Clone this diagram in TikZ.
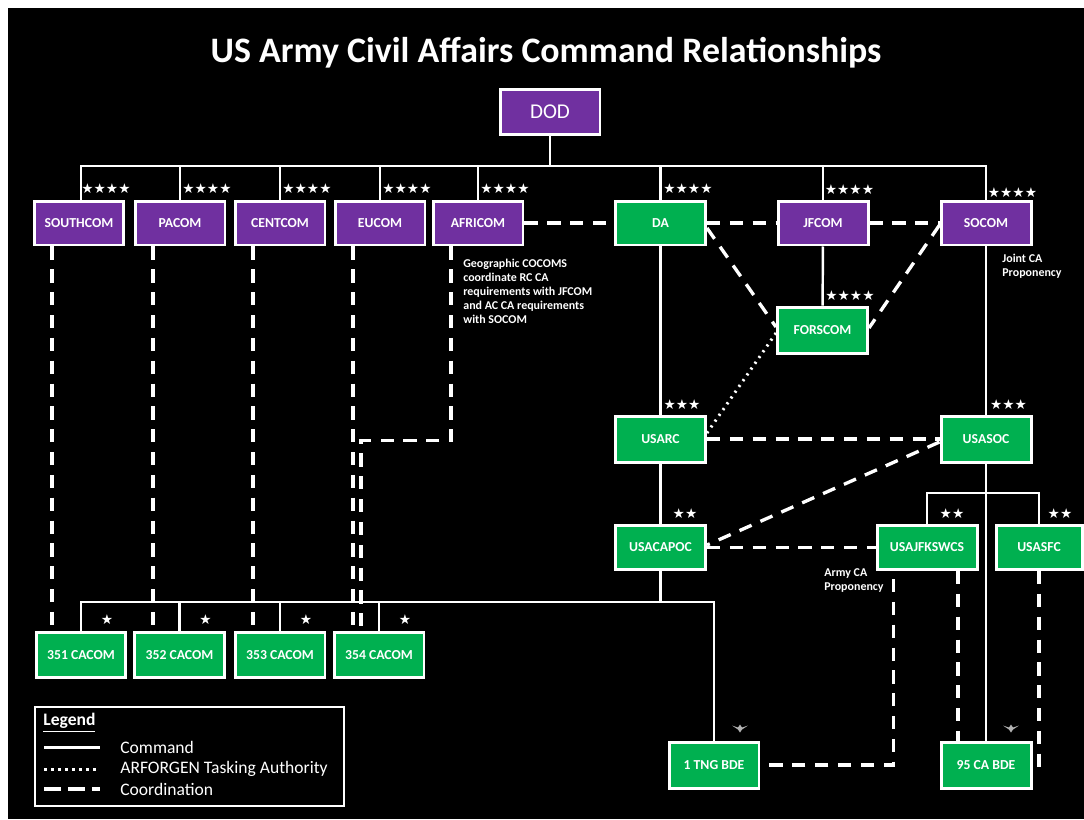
\documentclass[tikz,border=0pt]{standalone}
\usepackage{fontspec}
\setmainfont{Carlito}
\newfontfamily\starfont{DejaVu Sans}
\definecolor{cmdpurple}{RGB}{112, 48, 160}
\definecolor{cmdgreen}{RGB}{0, 176, 80}

\begin{document}
\begin{tikzpicture}[x=0.02cm, y=-0.02cm,
    pbox/.style={draw=white, line width=1.7pt, fill=cmdpurple, text=white,
                 font=\fontsize{7.8}{9}\selectfont\bfseries,
                 minimum width=1.8cm, minimum height=0.88cm, inner sep=0pt},
    gbox/.style={pbox, fill=cmdgreen},
    cmd/.style={draw=white, line width=1.4pt},
    coord/.style={draw=white, line width=1.9pt, dash pattern=on 7.5pt off 5.5pt},
    tasking/.style={draw=white, line width=1.7pt, dash pattern=on 1.2pt off 2.8pt},
    stars/.style={text=white, font=\starfont\fontsize{7.8}{8}\selectfont, inner sep=0pt},
    note/.style={text=white, font=\fontsize{6.8}{7.9}\selectfont\bfseries,
                 align=left, inner sep=0pt, anchor=north west},
    legtext/.style={text=white, font=\fontsize{10}{12}\selectfont, anchor=west, inner sep=0pt}]

    % Page and background
    \useasboundingbox (0,0) rectangle (1084,819);
    \fill[white] (0,0) rectangle (1084,819);
    \fill[black] (8,8) rectangle (1084,819);

    \node[text=white, font=\fontsize{20.4}{24}\selectfont\bfseries] (title) at (546,53)
        {US Army Civil Affairs Command Relationships};

    % Boxes
    \node[pbox, minimum width=2cm, minimum height=0.9cm, font=\fontsize{12}{14}\selectfont] (dod) at (550,112) {DOD};
    \foreach \n/\x in {SOUTHCOM/79, PACOM/180, CENTCOM/280, EUCOM/380, AFRICOM/478} {
        \node[pbox] (\n) at (\x,223) {\n};
        \node[stars] (s\n) at ([xshift=0.54cm, yshift=0.22cm]\n.north) {★★★★};
    }
    \node[gbox] (da) at (660.5,223) {DA};
    \node[pbox] (jfcom) at (823,223) {JFCOM};
    \node[pbox] (socom) at (986,223) {SOCOM};
    \node[gbox, minimum height=0.92cm] (forscom) at (822.5,330) {FORSCOM};
    \node[gbox, minimum height=0.92cm] (usarc) at (660.5,439) {USARC};
    \node[gbox, minimum height=0.92cm] (usasoc) at (986,439) {USASOC};
    \node[gbox] (usacapoc) at (660.5,547.5) {USACAPOC};
    \node[gbox, minimum width=2cm] (usajfkswcs) at (927,547.5) {USAJFKSWCS};
    \node[gbox, minimum width=1.72cm] (usasfc) at (1039,547.5) {USASFC};
    \node[gbox, minimum height=0.92cm] (tng) at (714,765) {1 TNG BDE};
    \node[gbox, minimum height=0.92cm] (bde95) at (986,765) {95 CA BDE};
    \foreach \n/\x in {351/81, 352/179.5, 353/280, 354/379} {
        \node[gbox, minimum height=0.9cm] (c\n) at (\x,655) {\n\ CACOM};
        \node[stars] (sc\n) at ([xshift=0.52cm, yshift=0.22cm]c\n.north) {★};
    }

    % Stars
    \node[stars] (sda) at ([xshift=0.55cm, yshift=0.22cm]da.north) {★★★★};
    \node[stars] (sjfcom) at ([xshift=0.53cm, yshift=0.2cm]jfcom.north) {★★★★};
    \node[stars] (ssocom) at ([xshift=0.53cm, yshift=0.14cm]socom.north) {★★★★};
    \node[stars] (sforscom) at ([xshift=0.55cm, yshift=0.2cm]forscom.north) {★★★★};
    \node[stars] (susarc) at ([xshift=0.43cm, yshift=0.2cm]usarc.north) {★★★};
    \node[stars] (susasoc) at ([xshift=0.45cm, yshift=0.2cm]usasoc.north) {★★★};
    \node[stars] (susacapoc) at ([xshift=0.49cm, yshift=0.2cm]usacapoc.north) {★★};
    \node[stars] (susajfkswcs) at ([xshift=0.5cm, yshift=0.2cm]usajfkswcs.north) {★★};
    \node[stars] (susasfc) at ([xshift=0.42cm, yshift=0.2cm]usasfc.north) {★★};

    % Eagles
    \fill[gray!60] ([xshift=0.52cm, yshift=0.24cm]tng.north) ++(-8,-3) -- ++(6,4) -- ++(2,3) -- ++(2,-3)
        -- ++(6,-4) -- ++(-6,2) -- ++(-2,-3) -- ++(-2,3) -- cycle;
    \fill[gray!60] ([xshift=0.5cm, yshift=0.24cm]bde95.north) ++(-8,-3) -- ++(6,4) -- ++(2,3) -- ++(2,-3)
        -- ++(6,-4) -- ++(-6,2) -- ++(-2,-3) -- ++(-2,3) -- cycle;

    % Command
    \coordinate (topbus) at (550,166);
    \draw[cmd] (dod.south) -- (topbus);
    \draw[cmd] ([xshift=0.04cm]SOUTHCOM.north) |- (topbus) -| (socom.north);
    \foreach \n in {PACOM, CENTCOM, EUCOM, AFRICOM, da, jfcom}
        \draw[cmd] (\n.north) -- (\n.north |- topbus);
    \draw[cmd] (jfcom) -- (forscom);
    \draw[cmd] (da) -- (usarc);
    \draw[cmd] (usarc) -- (usacapoc);
    \draw[cmd] (socom) -- (usasoc);
    \draw[cmd] (usasoc) -- (bde95);
    \coordinate (sofbus) at (986,493);
    \draw[cmd] (usajfkswcs.north) |- (sofbus) -| (usasfc.north);
    \coordinate (cabus) at (400,602);
    \draw[cmd] (c351.north) |- (cabus) -| (tng.north);
    \draw[cmd] (usacapoc) -- (usacapoc |- cabus);
    \foreach \n in {c352, c353, c354}
        \draw[cmd] (\n.north) -- (\n.north |- cabus);

    % Coordination
    \foreach \n/\c in {SOUTHCOM/c351, PACOM/c352, CENTCOM/c353, EUCOM/c354}
        \draw[coord] ([xshift=-0.54cm]\n.south) -- ([xshift=-0.54cm]\n.south |- \c.north);
    \draw[coord] ([xshift=-0.54cm]AFRICOM.south) -- ++(0,194) -| ([xshift=-0.36cm]c354.north);
    \draw[coord] (AFRICOM) -- (da);
    \draw[coord] (da) -- (jfcom);
    \draw[coord] (jfcom) -- (socom);
    \draw[coord] ([yshift=-0.1cm]da.east) -- ([yshift=0.06cm]forscom.west);
    \draw[coord] ([yshift=-0.04cm]socom.west) -- ([yshift=0.04cm]forscom.east);
    \draw[tasking] ([yshift=-0.06cm]forscom.west) -- ([yshift=0.12cm]usarc.east);
    \draw[coord] (usarc) -- (usasoc);
    \draw[coord] ([yshift=-0.06cm]usasoc.west) -- ([yshift=0.05cm]usacapoc.east);
    \draw[coord] (usacapoc) -- (usajfkswcs);
    \draw[coord] ([xshift=0.36cm, yshift=-0.16cm]usajfkswcs.south west) |- (tng.east);
    \draw[coord] ([xshift=0.62cm]usajfkswcs.south) -- ([xshift=0.62cm]usajfkswcs.south |- bde95.north);
    \draw[coord] (usasfc.south) |- (bde95.east);

    % Notes
    \node[note] (geonote) at (463,259) {Geographic COCOMS\\coordinate RC CA\\requirements with JFCOM\\and AC CA requirements\\with SOCOM};
    \node[note] (jointnote) at (1002,254) {Joint CA\\Proponency};
    \node[note] (armynote) at (824,568) {Army CA\\Proponency};

    % Legend
    \node[draw=white, line width=1.2pt, minimum width=6.18cm, minimum height=1.98cm, inner sep=0pt] (legend) at (189.5,756.5) {};
    \node[legtext, font=\fontsize{10}{12}\selectfont\bfseries] (legtitle) at (43,723) {\underline{Legend}};
    \draw[cmd, line width=1.7pt] (44,747) -- (100,747);
    \draw[tasking, dash pattern=on 1.5pt off 2.5pt] (44,769) -- (100,769);
    \draw[coord, dash pattern=on 9.5pt off 4.2pt] (44,789) -- (100,789);
    \node[legtext] (legcmd) at (120,747) {Command};
    \node[legtext] (legtask) at (120,769) {ARFORGEN Tasking Authority};
    \node[legtext] (legcoord) at (120,789) {Coordination};
\end{tikzpicture}
\end{document}
